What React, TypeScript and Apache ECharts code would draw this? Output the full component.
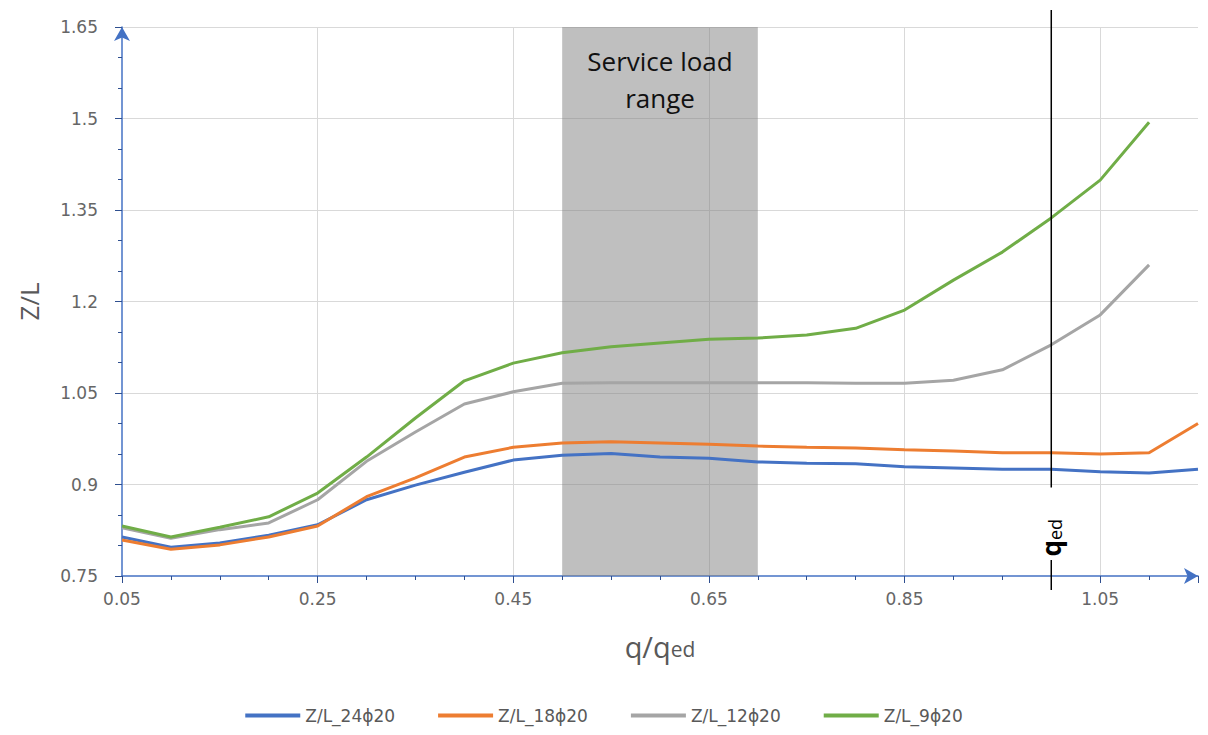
import React, { useEffect, useRef } from "react";
import * as echarts from "echarts";

const xValues = [0.05, 0.1, 0.15, 0.2, 0.25, 0.3, 0.35, 0.4, 0.45, 0.5, 0.55, 0.6, 0.65, 0.7, 0.75, 0.8, 0.85, 0.9, 0.95, 1.0, 1.05, 1.1, 1.15];
const zl24 = [0.814, 0.797, 0.804, 0.817, 0.834, 0.875, 0.899, 0.92, 0.94, 0.948, 0.951, 0.945, 0.943, 0.937, 0.935, 0.934, 0.929, 0.927, 0.925, 0.925, 0.921, 0.919, 0.925];
const zl18 = [0.809, 0.794, 0.801, 0.814, 0.832, 0.88, 0.911, 0.945, 0.961, 0.968, 0.97, 0.968, 0.966, 0.963, 0.961, 0.96, 0.957, 0.955, 0.952, 0.952, 0.95, 0.952, 1.0];
const zl12 = [0.829, 0.812, 0.826, 0.837, 0.875, 0.938, 0.986, 1.032, 1.052, 1.066, 1.067, 1.067, 1.067, 1.067, 1.067, 1.066, 1.066, 1.071, 1.088, 1.129, 1.178, 1.26];
const zl9 = [0.832, 0.814, 0.83, 0.847, 0.886, 0.945, 1.009, 1.07, 1.099, 1.116, 1.126, 1.132, 1.138, 1.14, 1.145, 1.156, 1.186, 1.235, 1.281, 1.337, 1.399, 1.494];

const seriesNames = ["Z/L_24ϕ20", "Z/L_18ϕ20", "Z/L_12ϕ20", "Z/L_9ϕ20"];
const seriesColors = ["#4472c4", "#ed7d31", "#a5a5a5", "#70ad47"];
const serviceRange = [0.5, 0.7];
const qedValue = 1.0;

const FONT = "'Open Sans', 'Noto Sans', sans-serif";
const TICK_FONT = "'DejaVu Sans', sans-serif";
const AXIS_BLUE = "#4472c4";
const TEXT = "#595959";

export default function App() {
  const ref = useRef<HTMLDivElement>(null);
  useEffect(() => {
    if (!ref.current) return;
    const chart = echarts.init(ref.current, null, { renderer: "svg" });
    const datasets = [zl24, zl18, zl12, zl9];
    const option: any = {
      animation: false,
      backgroundColor: "#ffffff",
      grid: { left: 122, right: 10, top: 27, bottom: 159, containLabel: false },
      legend: {
        bottom: 6,
        left: "center",
        icon: "rect",
        itemWidth: 55,
        itemHeight: 4,
        itemGap: 43,
        textStyle: { color: TEXT, fontSize: 17, fontFamily: TICK_FONT },
        data: seriesNames,
      },
      xAxis: {
        type: "value",
        min: 0.05,
        max: 1.15,
        interval: 0.2,
        name: "{a|q/q}{b|ed}",
        nameLocation: "middle",
        nameGap: 56,
        nameTextStyle: {
          rich: {
            a: { fontSize: 29, color: TEXT, fontFamily: FONT, fontWeight: 500, verticalAlign: "bottom" },
            b: { fontSize: 21, color: TEXT, fontFamily: FONT, verticalAlign: "bottom", padding: [0, 0, 2, 0] },
          },
        },
        axisLine: { show: true, lineStyle: { color: AXIS_BLUE, width: 1.5 }, symbol: ["none", "arrow"], symbolSize: [12, 14] },
        axisTick: { show: true, length: 7, lineStyle: { color: "#2f4f8f" } },
        minorTick: { show: true, splitNumber: 4, length: 4, lineStyle: { color: "#2f4f8f" } },
        axisLabel: {
          color: "#666666",
          fontSize: 17,
          fontFamily: TICK_FONT,
          margin: 14,
          showMaxLabel: false,
          formatter: (v: number) => (Math.abs(v - 1.15) < 1e-6 ? "" : String(+v.toFixed(2))),
        },
        splitLine: { show: true, showMinLine: false, showMaxLine: false, lineStyle: { color: "#d9d9d9", width: 1 } },
      },
      yAxis: {
        type: "value",
        min: 0.75,
        max: 1.65,
        interval: 0.15,
        name: "Z/L",
        nameLocation: "middle",
        nameRotate: 90,
        nameGap: 80,
        nameTextStyle: { fontSize: 26, color: TEXT, fontFamily: FONT },
        axisLine: { show: true, lineStyle: { color: AXIS_BLUE, width: 1.5 }, symbol: ["none", "arrow"], symbolSize: [12, 14] },
        axisTick: { show: true, length: 7, lineStyle: { color: "#2f4f8f" } },
        minorTick: { show: true, splitNumber: 3, length: 4, lineStyle: { color: "#2f4f8f" } },
        axisLabel: {
          color: "#666666",
          fontSize: 17,
          fontFamily: TICK_FONT,
          margin: 24,
          formatter: (v: number) => String(+v.toFixed(2)),
        },
        splitLine: { show: true, showMinLine: false, lineStyle: { color: "#d9d9d9", width: 1 } },
      },
      series: [
        {
          name: "band",
          type: "line",
          data: [],
          z: 1,
          silent: true,
          markArea: {
            silent: true,
            itemStyle: { color: "rgba(128,128,128,0.5)" },
            label: {
              show: true,
              position: "insideTop",
              distance: 15,
              formatter: "Service load\nrange",
              color: "#111111",
              fontSize: 26,
              lineHeight: 37,
              fontFamily: FONT,
              fontWeight: "normal",
            },
            data: [[{ xAxis: serviceRange[0] }, { xAxis: serviceRange[1] }]],
          },
        },
        ...datasets.map((d, i) => ({
          name: seriesNames[i],
          type: "line",
          z: 3,
          symbol: "none",
          showSymbol: false,
          lineStyle: { color: seriesColors[i], width: 3 },
          itemStyle: { color: seriesColors[i] },
          data: d.map((y, j) => [xValues[j], y]),
        })),
      ],
    };
    chart.setOption(option);

    const top = chart.convertToPixel({ xAxisIndex: 0, yAxisIndex: 0 }, [qedValue, 1.65]) as number[];
    const mid = chart.convertToPixel({ xAxisIndex: 0, yAxisIndex: 0 }, [qedValue, 0.895]) as number[];
    const bot = chart.convertToPixel({ xAxisIndex: 0, yAxisIndex: 0 }, [qedValue, 0.75]) as number[];
    const px = top[0];
    chart.setOption({
      graphic: [
        {
          type: "line",
          z: 10,
          shape: { x1: px, y1: top[1] - 17, x2: px, y2: mid[1] },
          style: { stroke: "#000000", lineWidth: 1.5 },
        },
        {
          type: "group",
          z: 10,
          x: px,
          y: (mid[1] + bot[1]) / 2 + 6,
          rotation: Math.PI / 2,
          children: [
            {
              type: "text",
              x: 0,
              y: 0,
              style: {
                text: "{q|q}{e|ed}",
                align: "center",
                verticalAlign: "middle",
                rich: {
                  q: { fontSize: 26, fontWeight: "bold", fill: "#000000", fontFamily: FONT, verticalAlign: "bottom" },
                  e: { fontSize: 18, fill: "#000000", fontFamily: FONT, verticalAlign: "bottom" },
                },
              },
            },
          ],
        },
        {
          type: "line",
          z: 10,
          shape: { x1: px, y1: bot[1] - 16, x2: px, y2: bot[1] + 14 },
          style: { stroke: "#000000", lineWidth: 1.5 },
        },
      ],
    });

    return () => chart.dispose();
  }, []);
  return (
    <div
      ref={ref}
      style={{ position: "fixed", left: 0, top: 0, width: 1208, height: 735, background: "#fff" }}
    />
  );
}
